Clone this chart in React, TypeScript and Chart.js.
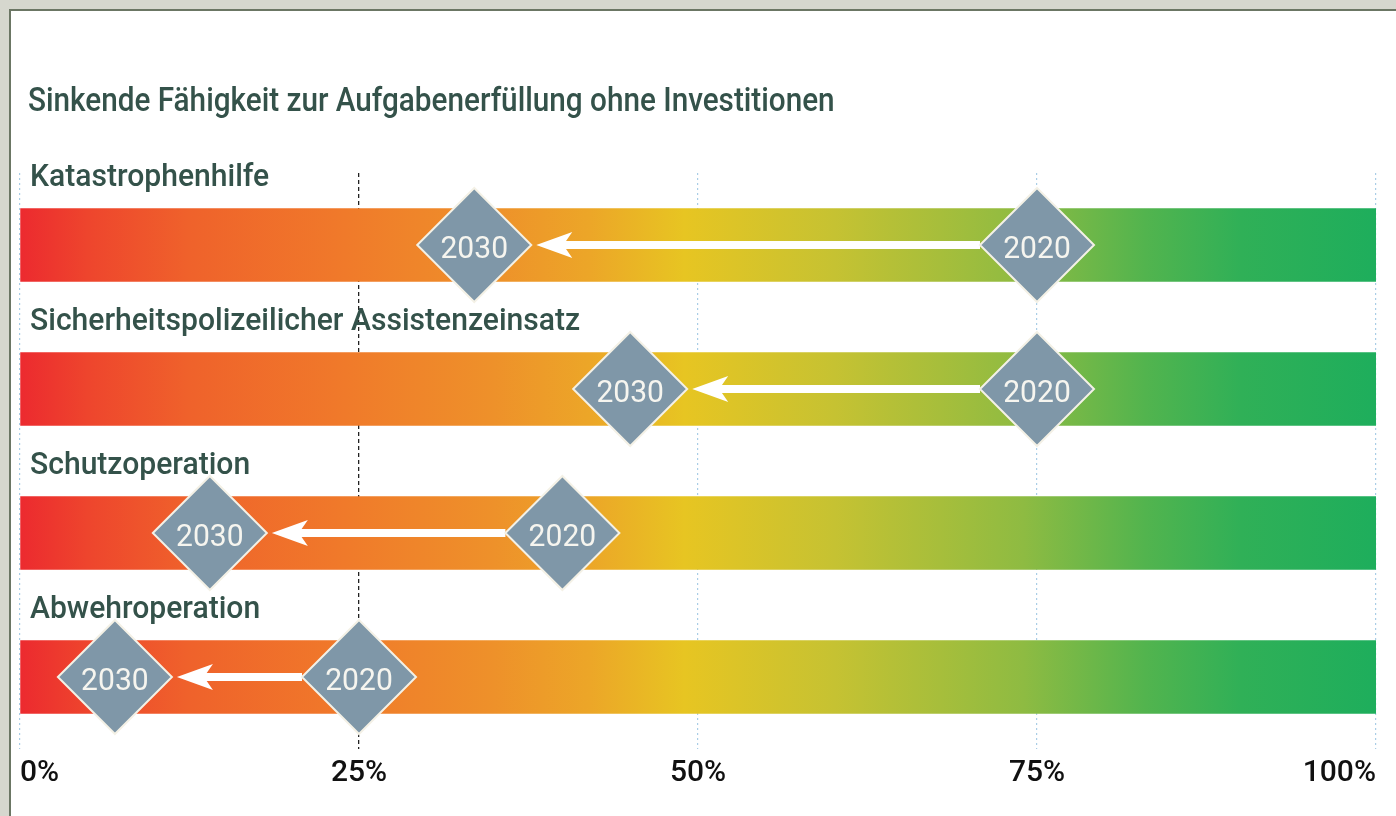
import React, { useEffect, useRef } from 'react';
import { Chart, registerables } from 'chart.js';

Chart.register(...registerables);

// ---------- data ----------
const chartTitle = 'Sinkende Fähigkeit zur Aufgabenerfüllung ohne Investitionen';
const categories = [
  'Katastrophenhilfe',
  'Sicherheitspolizeilicher Assistenzeinsatz',
  'Schutzoperation',
  'Abwehroperation',
];
const years = ['2020', '2030'];
const values2020 = [75, 75, 40, 25];
const values2030 = [33.5, 45, 14, 7];
const barRange = [0, 100];
const tickValues = [0, 25, 50, 75, 100];
const tickLabels = ['0%', '25%', '50%', '75%', '100%'];
const referenceValue = 25;

// ---------- styles ----------
const FONT = 'Roboto, "Noto Sans", sans-serif';
const TEXT_COLOR = '#34524a';
const DIAMOND_R = 57;
const DIAMOND_FILL = '#7f97a8';
const DIAMOND_EDGE = '#f4f1e6';
const TITLE_SCALE = 0.9;
const LABEL_SCALE = 0.94;

const gradientStops: [number, string][] = [
  [0, '#ec2a2f'],
  [0.05, '#ee452d'],
  [0.125, '#ef622b'],
  [0.24, '#f07a2a'],
  [0.35, '#ee912a'],
  [0.42, '#eca628'],
  [0.49, '#e7c522'],
  [0.6, '#c6c232'],
  [0.74, '#8ebb42'],
  [0.83, '#52b44e'],
  [0.9, '#30b057'],
  [1, '#1eae5c'],
];

function drawScaledText(
  ctx: CanvasRenderingContext2D,
  text: string,
  x: number,
  y: number,
  scaleX: number,
  align: CanvasTextAlign
) {
  ctx.save();
  ctx.translate(x, y);
  ctx.scale(scaleX, 1);
  ctx.textAlign = align;
  ctx.textBaseline = 'alphabetic';
  ctx.fillText(text, 0, 0);
  ctx.restore();
}

const overlayPlugin = {
  id: 'overlay',
  afterDatasetDraw(chart: any, args: any) {
    if (args.index !== 0) return;
    const ctx: CanvasRenderingContext2D = chart.ctx;
    const xs = chart.scales.x;
    const ys = chart.scales.y;
    ctx.save();
    ctx.fillStyle = '#ffffff';
    categories.forEach((_, i) => {
      const cy = ys.getPixelForValue(i);
      const start = xs.getPixelForValue(values2020[i]) - DIAMOND_R;
      const tip = xs.getPixelForValue(values2030[i]) + DIAMOND_R + 5;
      ctx.fillRect(tip + 20, cy - 4, start - tip - 20, 8);
      ctx.beginPath();
      ctx.moveTo(tip, cy);
      ctx.lineTo(tip + 36, cy - 13);
      ctx.lineTo(tip + 27, cy);
      ctx.lineTo(tip + 36, cy + 13);
      ctx.closePath();
      ctx.fill();
    });
    ctx.restore();
  },
  afterDatasetsDraw(chart: any) {
    const ctx: CanvasRenderingContext2D = chart.ctx;
    ctx.save();
    ctx.fillStyle = '#f6f5ef';
    ctx.font = `400 31px ${FONT}`;
    chart.data.datasets.forEach((ds: any, di: number) => {
      if (ds.type !== 'scatter') return;
      const meta = chart.getDatasetMeta(di);
      meta.data.forEach((pt: any) => {
        drawScaledText(ctx, ds.label, pt.x, pt.y + 13, 0.97, 'center');
      });
    });
    ctx.restore();
  },
  afterDraw(chart: any) {
    const ctx: CanvasRenderingContext2D = chart.ctx;
    const xs = chart.scales.x;
    const ys = chart.scales.y;
    const area = chart.chartArea;
    ctx.save();
    // title
    ctx.fillStyle = TEXT_COLOR;
    ctx.font = `500 33px ${FONT}`;
    drawScaledText(ctx, chartTitle, 28, 111, TITLE_SCALE, 'left');
    // category labels
    ctx.font = `500 32px ${FONT}`;
    categories.forEach((c, i) => {
      drawScaledText(ctx, c, 30, ys.getPixelForValue(i) - 59, LABEL_SCALE, 'left');
    });
    // tick labels
    ctx.fillStyle = '#111111';
    ctx.font = `500 30px ${FONT}`;
    tickValues.forEach((v, i) => {
      const px = xs.getPixelForValue(v);
      const align: CanvasTextAlign =
        i === 0 ? 'left' : i === tickValues.length - 1 ? 'right' : 'center';
      drawScaledText(ctx, tickLabels[i], px, area.bottom + 32, 1, align);
    });
    ctx.restore();
  },
};

export default function App() {
  const canvasRef = useRef<HTMLCanvasElement>(null);

  useEffect(() => {
    const canvas = canvasRef.current;
    if (!canvas) return;

    const diamondDataset = (year: string, values: number[]) => ({
      type: 'scatter' as const,
      label: year,
      data: values.map((v, i) => ({ x: v, y: categories[i] })),
      pointStyle: 'rectRot',
      pointRadius: DIAMOND_R,
      pointHoverRadius: DIAMOND_R,
      backgroundColor: DIAMOND_FILL,
      borderColor: DIAMOND_EDGE,
      borderWidth: 2,
      showLine: false,
      clip: false,
      order: 1,
    });

    const chart = new Chart(canvas, {
      type: 'bar',
      data: {
        labels: categories,
        datasets: [
          {
            type: 'bar',
            label: 'Skala',
            data: categories.map(() => barRange),
            barThickness: 73,
            borderWidth: 0,
            order: 3,
            backgroundColor: (ctx: any) => {
              const chart = ctx.chart;
              const xs = chart.scales.x;
              if (!chart.chartArea || !xs) return '#e7c522';
              const g = chart.ctx.createLinearGradient(
                xs.getPixelForValue(barRange[0]),
                0,
                xs.getPixelForValue(barRange[1]),
                0
              );
              gradientStops.forEach(([o, c]) => g.addColorStop(o, c));
              return g;
            },
          } as any,
          diamondDataset(years[0], values2020) as any,
          diamondDataset(years[1], values2030) as any,
        ],
      },
      options: {
        indexAxis: 'y',
        responsive: false,
        animation: false,
        devicePixelRatio: 1,
        events: [],
        layout: { autoPadding: false, padding: { left: 20, right: 20, top: 173, bottom: 67 } },
        plugins: {
          legend: { display: false },
          tooltip: { enabled: false },
          title: { display: false },
        },
        scales: {
          x: {
            type: 'linear',
            min: barRange[0],
            max: barRange[1],
            ticks: { display: false, stepSize: 25 },
            grid: {
              drawTicks: false,
              color: (c: any) => (c.tick && c.tick.value === referenceValue ? '#222222' : '#a9cde6'),
              lineWidth: (c: any) => (c.tick && c.tick.value === referenceValue ? 1.3 : 1.2),
            },
            border: {
              display: false,
              dash: (c: any) => (c.tick && c.tick.value === referenceValue ? [4, 3] : [2, 3]),
            } as any,
          },
          y: {
            type: 'category',
            display: false,
          },
        },
      } as any,
      plugins: [overlayPlugin],
    });

    return () => chart.destroy();
  }, []);

  return (
    <div
      style={{
        position: 'absolute',
        left: 0,
        top: 0,
        width: 1396,
        height: 816,
        background: '#d6d7ce',
        overflow: 'hidden',
      }}
    >
      <div
        style={{
          position: 'absolute',
          left: 9,
          top: 9,
          width: 1400,
          height: 820,
          border: '2px solid #6b7664',
          background: '#ffffff',
        }}
      />
      <canvas
        ref={canvasRef}
        width={1396}
        height={816}
        style={{ position: 'absolute', left: 0, top: 0, width: 1396, height: 816 }}
      />
    </div>
  );
}
